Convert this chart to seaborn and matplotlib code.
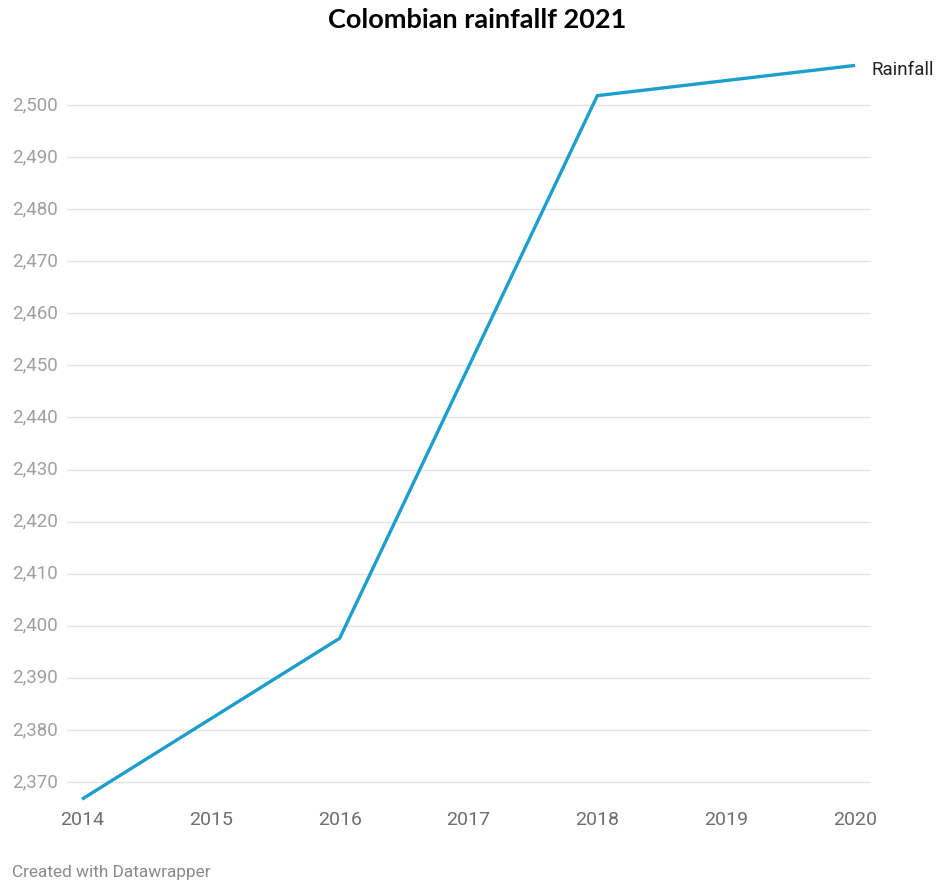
import matplotlib
matplotlib.use("Agg")
import matplotlib.pyplot as plt
import seaborn as sns
import pandas as pd

years = [2014, 2016, 2018, 2020]
rainfall = [2366.7, 2397.6, 2501.8, 2507.6]
x_ticks = [2014, 2015, 2016, 2017, 2018, 2019, 2020]
y_ticks = [2370, 2380, 2390, 2400, 2410, 2420, 2430, 2440, 2450, 2460, 2470, 2480, 2490, 2500]

sns.set_theme(style="white")
plt.rcParams["font.family"] = ["Roboto", "DejaVu Sans"]

W, H = 938, 883
fig = plt.figure(figsize=(W / 100, H / 100), dpi=100)

# axes placed in pixel terms: gridlines span x 67..871, y range y_lo..y_hi
y_lo, y_hi = 2366, 2510
px_per_unit = (782 - 105) / 130
top_px = 105 - (y_hi - 2500) * px_per_unit
bot_px = 782 + (2370 - y_lo) * px_per_unit
left_px, right_px = 67, 871
ax = fig.add_axes([left_px / W, 1 - bot_px / H, (right_px - left_px) / W, (bot_px - top_px) / H])

df = pd.DataFrame({"year": years, "rainfall": rainfall})
sns.lineplot(data=df, x="year", y="rainfall", ax=ax, color="#1c9fcd", linewidth=2.4,
             solid_capstyle="butt", solid_joinstyle="miter", zorder=3)
for ln in ax.lines:
    ln.set_clip_on(False)

per_year = (855 - 82) / 6
ax.set_xlim(2014 - 15 / per_year, 2020 + 16 / per_year)
ax.set_ylim(y_lo, y_hi)

for v in y_ticks:
    ax.axhline(v, color="#e3e3e3", linewidth=1.0, zorder=1)
    ax.text(12 / W, 1 - (782 - (v - 2370) * px_per_unit) / H, f"{v:,}",
            transform=fig.transFigure, ha="left", va="center",
            fontsize=13.5, color="#a0a0a0")

ax.set_yticks([])
ax.set_xticks(x_ticks)
ax.set_xticklabels([str(x) for x in x_ticks], fontsize=14, color="#6e6e6e")
ax.tick_params(axis="x", length=0, pad=6)
ax.set_xlabel("")
ax.set_ylabel("")
for s in ax.spines.values():
    s.set_visible(False)
ax.patch.set_alpha(0)

# end-of-line label
ax.annotate("Rainfall", xy=(years[-1], rainfall[-1]), xytext=(12, -3),
            textcoords="offset points", ha="left", va="center",
            fontsize=13.5, color="#222222", annotation_clip=False)

fig.text(477 / W, 1 - 20 / H, "Colombian rainfallf 2021", ha="center", va="center",
         fontsize=19.5, fontweight="bold", color="#000000", family=["Lato", "DejaVu Sans"])
fig.text(12 / W, 1 - 872 / H, "Created with Datawrapper", ha="left", va="center",
         fontsize=12.4, color="#8a8a8a")

fig.savefig("out.png", dpi=100, facecolor="white")
